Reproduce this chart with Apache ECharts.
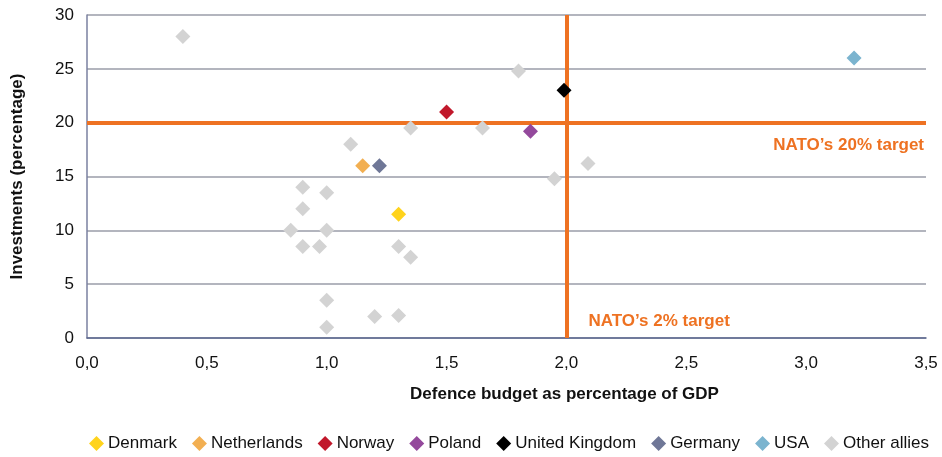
<!DOCTYPE html>
<html>
<head>
<meta charset="utf-8">
<script src="https://cdn.jsdelivr.net/npm/echarts@6/dist/echarts.min.js"></script>
<style>html,body{margin:0;padding:0;background:#fff}#c{width:942px;height:457px}</style>
</head>
<body>
<div id="c"></div>
<script>
const seriesNames = ['Denmark','Netherlands','Norway','Poland','United Kingdom','Germany','USA','Other allies'];
const seriesColors = ['#FFD31C','#F2AF52','#C1182B','#94499C','#000000','#6F7797','#7BB4CF','#D3D3D3'];
const denmark = [[1.3, 11.5]];
const netherlands = [[1.15, 16.0]];
const norway = [[1.5, 21.0]];
const poland = [[1.85, 19.2]];
const unitedKingdom = [[1.99, 23.0]];
const germany = [[1.22, 16.0]];
const usa = [[3.2, 26.0]];
const otherAllies = [
  [0.4, 28.0], [1.8, 24.8], [1.35, 19.5], [1.65, 19.5], [1.1, 18.0],
  [2.09, 16.2], [1.95, 14.8], [0.9, 14.0], [1.0, 13.5], [0.9, 12.0],
  [0.85, 10.0], [1.0, 10.0], [0.9, 8.5], [0.97, 8.5], [1.3, 8.5],
  [1.35, 7.5], [1.0, 3.5], [1.0, 1.0], [1.2, 2.0], [1.3, 2.1]
];
const seriesData = [denmark, netherlands, norway, poland, unitedKingdom, germany, usa, otherAllies];
const targetGdp = 2.0;
const targetInvest = 20;
const xTicks = {min: 0, max: 3.5, interval: 0.5};
const yTicks = {min: 0, max: 30, interval: 5};

const FONT = '"Liberation Sans", Arial, sans-serif';
const ORANGE = '#EE7222';
const chart = echarts.init(document.getElementById('c'));

const series = seriesNames.map((n, i) => ({
  name: n,
  type: 'scatter',
  symbol: 'diamond',
  symbolSize: 15,
  itemStyle: {color: seriesColors[i], opacity: 1},
  data: seriesData[i],
  z: i === 7 ? 10 : 11
}));
series.push({
  name: 'targets',
  type: 'line',
  data: [],
  silent: true,
  z: 1,
  markLine: {
    symbol: 'none',
    silent: true,
    animation: false,
    z: 1,
    lineStyle: {color: ORANGE, width: 4, type: 'solid'},
    data: [
      {yAxis: targetInvest, label: {show: true, position: 'insideEndBottom', formatter: 'NATO\u2019s 20% target', color: ORANGE, fontWeight: 'bold', fontSize: 17, fontFamily: FONT, distance: [2, 14]}},
      {xAxis: targetGdp, label: {show: false}}
    ]
  }
});

chart.setOption({
  animation: false,
  textStyle: {fontFamily: FONT},
  grid: {left: 87, right: 16, top: 15, bottom: 119, containLabel: false},
  xAxis: {
    type: 'value', min: xTicks.min, max: xTicks.max, interval: xTicks.interval,
    name: 'Defence budget as percentage of GDP', nameLocation: 'middle', nameGap: 48,
    nameTextStyle: {fontWeight: 'bold', fontSize: 17, color: '#111', fontFamily: FONT, padding: [0, 0, 0, 116]},
    axisLine: {show: true, lineStyle: {color: '#5B6790', width: 1.5}},
    axisTick: {show: false},
    splitLine: {show: false},
    axisLabel: {fontSize: 17, color: '#111', margin: 17, fontFamily: FONT, formatter: v => v.toFixed(1).replace('.', ',')}
  },
  yAxis: {
    type: 'value', min: yTicks.min, max: yTicks.max, interval: yTicks.interval,
    name: 'Investments (percentage)', nameLocation: 'middle', nameGap: 61,
    nameTextStyle: {fontWeight: 'bold', fontSize: 17, color: '#111', fontFamily: FONT},
    axisLine: {show: true, lineStyle: {color: '#7A80A0', width: 1.5}},
    axisTick: {show: false},
    splitLine: {show: true, lineStyle: {color: '#9A9DA8', width: 1.5}},
    axisLabel: {fontSize: 17, color: '#111', margin: 13, fontFamily: FONT}
  },
  legend: {
    data: seriesNames,
    bottom: 0,
    left: 84,
    icon: 'diamond',
    itemWidth: 15, itemHeight: 15,
    itemGap: 15,
    textStyle: {fontSize: 17, color: '#111', fontFamily: FONT, padding: [0, 0, 0, -1]}
  },
  series: series
});

const p = chart.convertToPixel({gridIndex: 0}, [targetGdp, 0]);
chart.setOption({
  graphic: [{
    type: 'text', left: p[0] + 22, top: p[1] - 25,
    style: {text: 'NATO\u2019s 2% target', fill: ORANGE, font: 'bold 17px ' + FONT}
  }]
});
</script>
</body>
</html>
